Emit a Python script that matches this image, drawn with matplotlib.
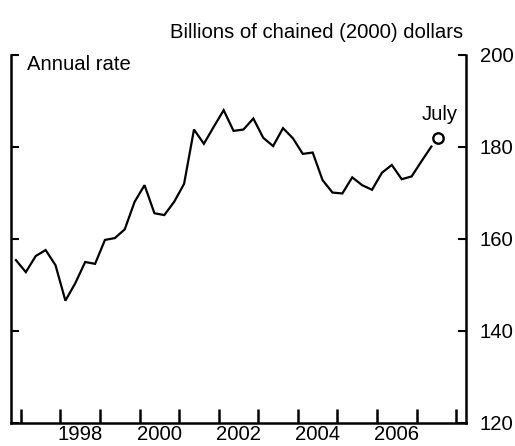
import matplotlib
matplotlib.use("Agg")
import matplotlib.pyplot as plt
import numpy as np

plt.rcParams["font.family"] = ["Liberation Sans", "DejaVu Sans"]

# Quarterly series, annual rate, billions of chained (2000) dollars
first_year = 1996
first_quarter = 4
values = [155.4, 152.8, 156.3, 157.6, 154.3, 146.6, 150.4, 155.0, 154.6, 159.8,
          160.2, 162.1, 168.1, 171.7, 165.6, 165.2, 168.1, 172.0, 183.8, 180.7,
          184.4, 188.0, 183.5, 183.8, 186.2, 182.0, 180.2, 184.1, 181.9, 178.5,
          178.8, 172.8, 170.1, 169.9, 173.4, 171.7, 170.7, 174.4, 176.1, 173.0,
          173.6, 176.9, 180.1]

# Latest monthly reading
latest_label = "July"
latest_year = 2007
latest_month = 7
latest_value = 181.9

year_ticks = list(range(1997, 2009))
year_labels = [1998, 2000, 2002, 2004, 2006]
y_ticks = [120, 140, 160, 180, 200]

FS = 14.6

# quarter midpoints in fractional years
q_index = np.arange(len(values)) + (first_quarter - 1)
x = first_year + (q_index + 0.5) / 4.0
x_latest = latest_year + (latest_month - 0.5) / 12.0

fig = plt.figure(figsize=(5.15, 4.46), dpi=100)
ax = fig.add_axes([11 / 515, 23 / 446, 455 / 515, 368 / 446])

ax.plot(x, values, color="black", lw=1.6, solid_joinstyle="miter")
ax.plot([x_latest], [latest_value], marker="o", ms=7.5, mfc="white",
        mec="black", mew=1.7, ls="none")
ax.annotate(latest_label, (x_latest, latest_value), xytext=(1, 10),
            textcoords="offset points", ha="center", va="bottom", fontsize=FS)

ax.set_xlim(1996.75, 2008.25)
ax.set_ylim(120, 200)

ax.spines["top"].set_visible(False)
for side in ("left", "right", "bottom"):
    ax.spines[side].set_linewidth(1.8)

ax.set_xticks(year_ticks)
ax.set_xticklabels([])
ax.set_xticks([y + 0.5 for y in year_labels], minor=True)
ax.set_xticklabels([str(y) for y in year_labels], minor=True, fontsize=FS)
ax.tick_params(axis="x", which="major", direction="in", length=10, width=1.8)
ax.tick_params(axis="x", which="minor", length=0, pad=1.5)

ax.set_yticks(y_ticks)
ax.tick_params(axis="y", which="major", direction="in", length=6, width=1.5,
               left=True, right=True, labelleft=False, labelright=True,
               labelsize=FS, pad=10)

fig.text(463 / 515, 1 - 33 / 446, "Billions of chained (2000) dollars",
         ha="right", va="center", fontsize=FS)
ax.text(0.035, 0.975, "Annual rate", transform=ax.transAxes, ha="left",
        va="center", fontsize=FS)

fig.savefig("out.png", dpi=100)
